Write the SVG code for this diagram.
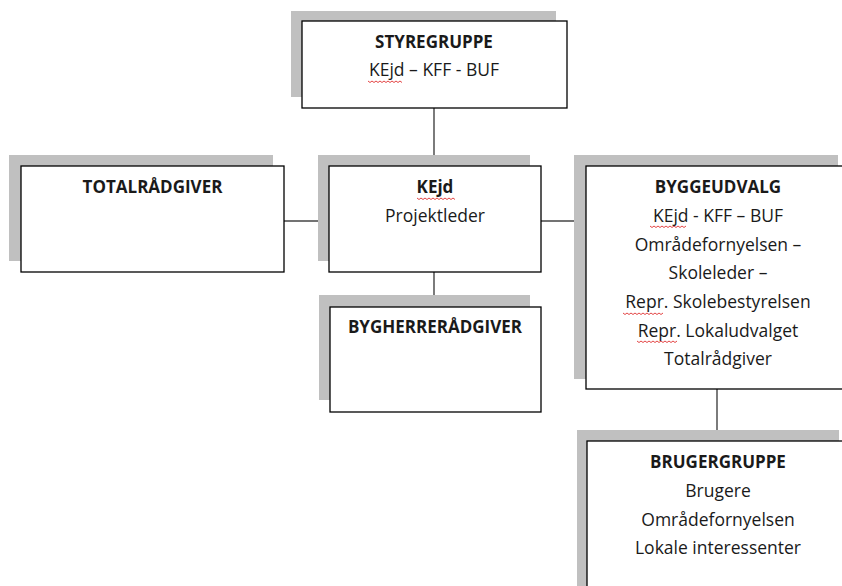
<svg xmlns="http://www.w3.org/2000/svg" width="842" height="586" viewBox="0 0 842 586">
<style>
.shadow{fill:#c0c0c0;stroke:none}
.box{fill:#ffffff;stroke:#000000;stroke-width:1.3}
.conn{stroke:#444444;stroke-width:1.4;fill:none}
text{font-family:"Open Sans","Liberation Sans",Arial,sans-serif;font-size:17.5px;fill:#1a1a1a;text-anchor:middle}
.b{font-weight:bold;font-size:17px}
.sq{stroke:#e03030;stroke-width:0.9;fill:none}
</style>
<rect width="842" height="586" fill="#ffffff"/>
<g id="connectors">
<line class="conn" x1="434" y1="108" x2="434" y2="166"/>
<line class="conn" x1="284" y1="221" x2="329" y2="221"/>
<line class="conn" x1="541" y1="221" x2="586" y2="221"/>
<line class="conn" x1="434" y1="272" x2="434" y2="307"/>
<line class="conn" x1="717" y1="389" x2="717" y2="441"/>
</g>
<g id="styregruppe">
<rect class="shadow" x="291" y="11" width="265" height="86"/>
<rect class="box" x="302" y="21" width="265" height="87"/>
<text class="b" x="434" y="48">STYREGRUPPE</text>
<text x="434" y="76">KEjd – KFF - BUF</text>
<path class="sq" d="M368 81 l2 1.5 l2 -1.5 l2 1.5 l2 -1.5 l2 1.5 l2 -1.5 l2 1.5 l2 -1.5 l2 1.5 l2 -1.5 l2 1.5 l2 -1.5 l2 1.5 l2 -1.5 l2 1.5 l2 -1.5 l2 1.5"/>
</g>
<g id="totalraadgiver">
<rect class="shadow" x="9" y="155" width="264" height="106"/>
<rect class="box" x="21" y="166" width="263" height="106"/>
<text class="b" x="152.5" y="193">TOTALRÅDGIVER</text>
</g>
<g id="kejd">
<rect class="shadow" x="318" y="155" width="212" height="106"/>
<rect class="box" x="329" y="166" width="212" height="106"/>
<text class="b" x="435" y="193">KEjd</text>
<text x="435" y="222">Projektleder</text>
<path class="sq" d="M417 198 l2 1.5 l2 -1.5 l2 1.5 l2 -1.5 l2 1.5 l2 -1.5 l2 1.5 l2 -1.5 l2 1.5 l2 -1.5 l2 1.5 l2 -1.5 l2 1.5 l2 -1.5 l2 1.5 l2 -1.5 l2 1.5 l2 -1.5 l2 1.5"/>
</g>
<g id="byggeudvalg">
<rect class="shadow" x="574" y="155" width="264" height="224"/>
<rect class="box" x="586" y="166" width="264" height="223"/>
<text class="b" x="718" y="193">BYGGEUDVALG</text>
<text x="718" y="222">KEjd - KFF – BUF</text>
<text x="718" y="251">Områdefornyelsen –</text>
<text x="718" y="279">Skoleleder –</text>
<text x="718" y="308">Repr. Skolebestyrelsen</text>
<text x="718" y="337">Repr. Lokaludvalget</text>
<text x="718" y="365">Totalrådgiver</text>
<path class="sq" d="M650 226 l2 1.5 l2 -1.5 l2 1.5 l2 -1.5 l2 1.5 l2 -1.5 l2 1.5 l2 -1.5 l2 1.5 l2 -1.5 l2 1.5 l2 -1.5 l2 1.5 l2 -1.5 l2 1.5 l2 -1.5 l2 1.5 l2 -1.5"/>
<path class="sq" d="M623 313 l2 1.5 l2 -1.5 l2 1.5 l2 -1.5 l2 1.5 l2 -1.5 l2 1.5 l2 -1.5 l2 1.5 l2 -1.5 l2 1.5 l2 -1.5 l2 1.5 l2 -1.5 l2 1.5 l2 -1.5 l2 1.5 l2 -1.5 l2 1.5 l2 -1.5"/>
<path class="sq" d="M637 341 l2 1.5 l2 -1.5 l2 1.5 l2 -1.5 l2 1.5 l2 -1.5 l2 1.5 l2 -1.5 l2 1.5 l2 -1.5 l2 1.5 l2 -1.5 l2 1.5 l2 -1.5 l2 1.5 l2 -1.5 l2 1.5 l2 -1.5 l2 1.5 l2 -1.5"/>
</g>
<g id="bygherreraadgiver">
<rect class="shadow" x="319" y="295" width="211" height="105"/>
<rect class="box" x="330" y="307" width="211" height="105"/>
<text class="b" x="435" y="333">BYGHERRERÅDGIVER</text>
</g>
<g id="brugergruppe">
<rect class="shadow" x="577" y="430" width="262" height="170"/>
<rect class="box" x="587" y="441" width="263" height="170"/>
<text class="b" x="718" y="468">BRUGERGRUPPE</text>
<text x="718" y="497">Brugere</text>
<text x="718" y="526">Områdefornyelsen</text>
<text x="718" y="554">Lokale interessenter</text>
</g>
</svg>
